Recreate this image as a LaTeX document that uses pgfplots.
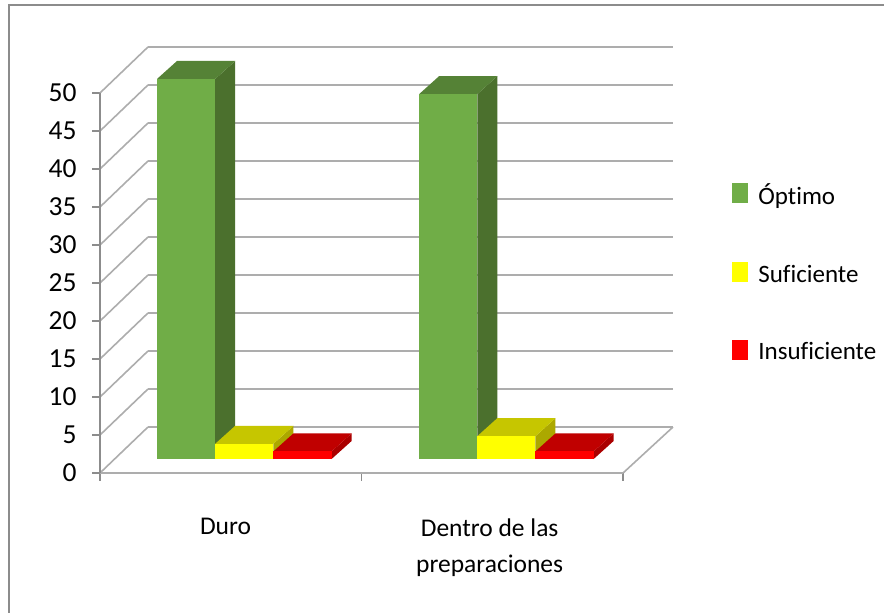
\documentclass[border=0pt]{standalone}
\usepackage{fontspec}
\setmainfont[Ligatures=NoCommon]{Carlito}
\usepackage{pgfplots}
\pgfplotsset{compat=1.18}

\definecolor{wallgrid}{gray}{0.68}
\definecolor{axisgrey}{gray}{0.55}
\definecolor{greenfront}{RGB}{112,173,71}
\definecolor{greenside}{RGB}{75,112,45}
\definecolor{greentop}{RGB}{85,130,54}
\definecolor{yellowfront}{RGB}{255,255,0}
\definecolor{yellowside}{RGB}{172,168,0}
\definecolor{yellowtop}{RGB}{198,198,0}
\definecolor{redfront}{RGB}{255,0,0}
\definecolor{redside}{RGB}{170,0,0}
\definecolor{redtop}{RGB}{192,0,0}

% Depth of the back wall and of one bar, in axis units
\newcommand\walldx{0.1835}
\newcommand\walldy{6.05}
\newcommand\barw{0.2225}
\newcommand\bardx{0.0765}
\newcommand\bardy{2.37}
\newcommand\barbase{1.84}

% Side and top faces of a bar: left edge, value, side colour, top colour
\newcommand\barfaces[4]{%
  \addplot[fill=#3,draw=none,forget plot] coordinates {
    ({#1+\barw},{\barbase}) ({#1+\barw+\bardx},{\barbase+\bardy})
    ({#1+\barw+\bardx},{\barbase+#2+\bardy}) ({#1+\barw},{\barbase+#2})} -- cycle;
  \addplot[fill=#4,draw=none,forget plot] coordinates {
    ({#1},{\barbase+#2}) ({#1+\barw},{\barbase+#2})
    ({#1+\barw+\bardx},{\barbase+#2+\bardy}) ({#1+\bardx},{\barbase+#2+\bardy})} -- cycle;
}
% Front face of a bar: left edge, value, colour, extra plot options
\newcommand\barfront[4]{%
  \addplot[fill=#3,draw=none,#4] coordinates {
    ({#1},{\barbase}) ({#1+\barw},{\barbase})
    ({#1+\barw},{\barbase+#2}) ({#1},{\barbase+#2})} -- cycle;
}

\begin{document}
\begin{tikzpicture}[x=1pt,y=1pt]
\path[use as bounding box] (0,0) rectangle (884,613);
\fill[white] (0,0) rectangle (884,613);
% chart frame
\draw[axisgrey,line width=1.8pt] (9,0) -- (9,608) -- (884,608);

\begin{axis}[
  at={(100pt,140pt)},anchor=south west,
  scale only axis,width=573pt,height=426pt,
  xmin=0,xmax=2.191,ymin=0,ymax=56.05,
  clip=false,
  axis x line*=bottom,axis y line*=left,
  axis line style={draw=none},
  xtick={0,1,2},xticklabels={,,},
  extra x ticks={0.48,1.49},
  extra x tick labels={Duro,{Dentro de las\\preparaciones}},
  extra x tick style={major tick length=0pt,
    tick label style={yshift=-42pt}},
  x tick label style={align=center,font=\fontsize{25.5}{36}\selectfont},
  ytick={0,5,...,50},
  y tick label style={font=\fontsize{27.5}{30}\selectfont,xshift=-12pt},
  /pgf/number format/assume math mode=true,
  tick align=outside,
  x tick style={axisgrey,line width=1.2pt},
  y tick style={axisgrey,line width=1.2pt},
  major tick length=8pt,
  legend style={at={(632pt,291pt)},anchor=north west,draw=none,fill=none,
    inner sep=0pt,outer sep=0pt,
    font=\fontsize{25}{30}\selectfont,
    row sep=54pt,
    /tikz/every even column/.append style={column sep=0pt}},
  legend cell align=left,
  legend image code/.code={\fill[#1] (0pt,-8pt) rectangle (16pt,12pt);},
]
% back wall and left wall grid
\pgfplotsinvokeforeach{0,5,...,50}{
  \addplot[wallgrid,line width=2.2pt,forget plot] coordinates
    {({\walldx},{#1+\walldy}) (2.191,{#1+\walldy})};
  \addplot[wallgrid,line width=1.6pt,forget plot] coordinates
    {(0,#1) ({\walldx},{#1+\walldy})};
}
% floor
\addplot[wallgrid,line width=2.2pt,forget plot] coordinates {(0,0) (2,0)};
\addplot[wallgrid,line width=1.6pt,forget plot] coordinates {(2,0) (2.191,{\walldy})};
% value axis
\addplot[axisgrey,line width=1.2pt,forget plot] coordinates {(0,0) (0,50)};

% Duro
\barfaces{0.218}{50}{greenside}{greentop}
\barfront{0.218}{50}{greenfront}{fill=greenfront}
\barfaces{0.4405}{2}{yellowside}{yellowtop}
\barfront{0.4405}{2}{yellowfront}{fill=yellowfront}
\barfaces{0.663}{1}{redside}{redtop}
\barfront{0.663}{1}{redfront}{fill=redfront}
% Dentro de las preparaciones
\barfaces{1.22}{48}{greenside}{greentop}
\barfront{1.22}{48}{greenfront}{forget plot}
\barfaces{1.4425}{3}{yellowside}{yellowtop}
\barfront{1.4425}{3}{yellowfront}{forget plot}
\barfaces{1.665}{1}{redside}{redtop}
\barfront{1.665}{1}{redfront}{forget plot}

\legend{\,\,Óptimo,\,\,Suficiente,\,\,Insuficiente}
\end{axis}
\end{tikzpicture}
\end{document}
